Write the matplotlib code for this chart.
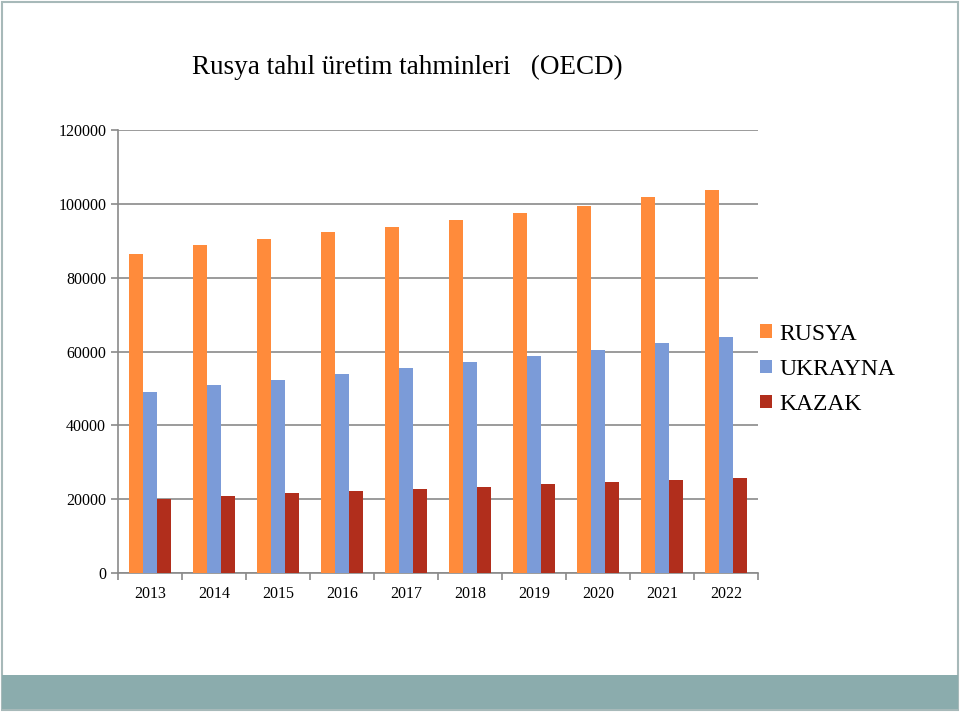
import numpy as np
import matplotlib.pyplot as plt
from matplotlib.patches import Rectangle

years = ["2013", "2014", "2015", "2016", "2017", "2018", "2019", "2020", "2021", "2022"]
rusya = [86500, 88800, 90500, 92300, 93800, 95600, 97500, 99400, 101800, 103700]
ukrayna = [49000, 51000, 52400, 54000, 55500, 57100, 58800, 60400, 62300, 63900]
kazak = [20000, 20900, 21700, 22200, 22800, 23400, 24100, 24600, 25200, 25700]

plt.rcParams["font.family"] = ["Liberation Serif", "DejaVu Serif"]

fig = plt.figure(figsize=(9.6, 7.12), dpi=100)

# frame and bottom band
fig.patches.append(Rectangle((0.002, 0.003), 0.996, 0.994, transform=fig.transFigure,
                             fill=False, edgecolor="#a7b9b9", linewidth=1.5))
fig.patches.append(Rectangle((0.002, 0.004), 0.996, 0.048, transform=fig.transFigure,
                             facecolor="#8bacad", edgecolor="none"))

ax = fig.add_axes([118 / 960, 1 - 573 / 712, 640 / 960, 443 / 712])

x = np.arange(len(years))
w = 1 / 4.5
ax.bar(x - w, rusya, w, color="#ff8b3b", label="RUSYA", zorder=3)
ax.bar(x, ukrayna, w, color="#7b9bd8", label="UKRAYNA", zorder=3)
ax.bar(x + w, kazak, w, color="#b12e1c", label="KAZAK", zorder=3)

ax.set_xlim(-0.5, len(years) - 0.5)
ax.set_ylim(0, 120000)
ax.set_yticks(range(0, 120001, 20000))
ax.yaxis.grid(True, color="#8a8a8a", linewidth=1.2, zorder=0)
ax.set_axisbelow(True)

ax.set_xticks(x)
ax.set_xticklabels(years)
ax.set_xticks(np.arange(-0.5, len(years), 1), minor=True)
ax.tick_params(axis="x", which="major", length=0, pad=9, labelsize=11.5)
ax.tick_params(axis="x", which="minor", length=5, color="#8a8a8a", width=1.2)
ax.tick_params(axis="y", length=5, color="#8a8a8a", width=1.2, pad=3.5, labelsize=11.5)

for s in ["top", "right"]:
    ax.spines[s].set_visible(False)
for s in ["left", "bottom"]:
    ax.spines[s].set_color("#8a8a8a")
    ax.spines[s].set_linewidth(1.2)

ax.legend(loc="center left", bbox_to_anchor=(1.0, 0.46), frameon=False, fontsize=17,
          handlelength=0.5, handleheight=0.5, handletextpad=0.3, labelspacing=0.6,
          borderaxespad=0, borderpad=0.1)

fig.text(407 / 960, 1 - 67 / 712, "Rusya tahıl üretim tahminleri   (OECD)",
         ha="center", va="center", fontsize=19.5)

fig.savefig("out.png", dpi=100)
